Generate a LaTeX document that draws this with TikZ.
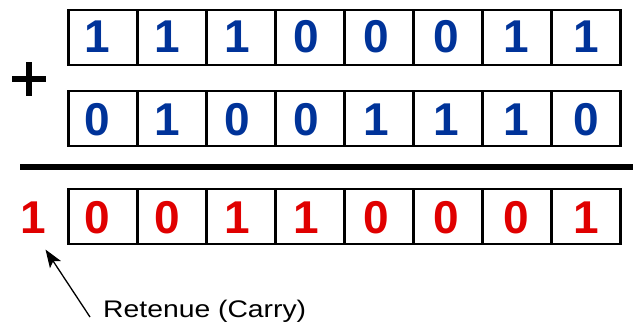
\documentclass[tikz,border=0pt]{standalone}
\usepackage{fontspec}
\setmainfont{Liberation Sans}
\usepackage{graphicx}
\usetikzlibrary{arrows.meta}
\definecolor{bitblue}{RGB}{0,51,153}
\definecolor{bitred}{RGB}{224,0,0}
\tikzset{
  cell/.style={draw, line width=2.5pt, minimum width=69.06pt, minimum height=55pt, inner sep=0pt},
  bit/.style={inner sep=0pt, font=\bfseries\fontsize{46}{46}\selectfont},
}
\begin{document}
\begin{tikzpicture}[x=1pt,y=-1pt]
    \useasboundingbox (0,0) rectangle (633,327);

    \foreach \d [count=\i] in {1,1,1,0,0,0,1,1} {
      \node[cell] (a\i) at (68.25+69.06*\i-34.53, 37.5) {};
      \node[bit, bitblue] (da\i) at (97+69.9*\i-69.9, 37) {\d};
    }
    \foreach \d [count=\i] in {0,1,0,0,1,1,1,0} {
      \node[cell] (b\i) at (68.25+69.06*\i-34.53, 118.5) {};
      \node[bit, bitblue] (db\i) at (97+69.9*\i-69.9, 119.5) {\d};
    }

    \draw[line width=6.5pt] (12,79) -- (46,79);
    \draw[line width=6.5pt] (29,62) -- (29,96);
    \draw[line width=6pt] (20,167) -- (633,167);

    \foreach \d [count=\i] in {0,0,1,1,0,0,0,1} {
      \node[cell] (s\i) at (68.25+69.06*\i-34.53, 216.5) {};
      \node[bit, bitred] (ds\i) at (97+69.9*\i-69.9, 217.5) {\d};
    }
    \node[bit, bitred] (carry) at (33.5,217.5) {1};

    \node[anchor=base west, inner sep=0pt, font=\fontsize{24}{24}\selectfont] (note) at (103,317) {\scalebox{1.18}[1]{Retenue (Carry)}};
    \draw[line width=1.3pt, -{Stealth[length=18pt,width=13pt,inset=4pt]}] ([xshift=-13pt]note.base west) -- ([shift={(12,16)}]carry.south);

\end{tikzpicture}
\end{document}
